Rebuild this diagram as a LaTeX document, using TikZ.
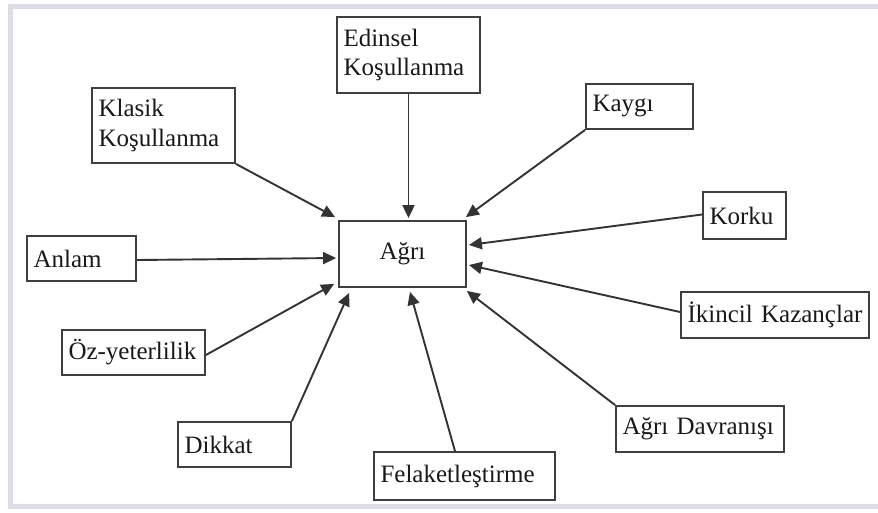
\documentclass[tikz,border=0pt]{standalone}
\usepackage{fontspec}
\setmainfont{Liberation Serif}
\usetikzlibrary{arrows.meta,calc}
\definecolor{framec}{HTML}{DDDDEA}
\definecolor{linec}{HTML}{333333}
\definecolor{boxc}{HTML}{3F3F3F}
\tikzset{
  box/.style={draw=boxc, line width=1.8pt, fill=white, inner xsep=5pt, inner ysep=2pt,
    align=left, font=\fontsize{25}{29.5}\selectfont, text=black!90},
  conn/.style={draw=linec, line width=1.9pt, -{Triangle[length=13pt,width=12pt]}},
}
\newcommand{\bx}[7]{% name, x1, y1, x2, y2, text
  \node[box, minimum width={#4-#2}, minimum height={#5-#3}, text width={#4-#2-10}] (#1) at ({(#2+#4)/2},{(#3+#5)/2}) {\hspace*{1.5pt}#6};}
\begin{document}
\begin{tikzpicture}[x=1pt,y=-1pt]
\useasboundingbox (0,0) rectangle (878,512);
\begin{scope}
\clip (0,0) rectangle (878,512);
\draw[framec, line width=5pt] (10,6) rectangle (895,506);
\end{scope}
\bx{klasik}{92}{88}{235}{163}{Klasik\\\hspace*{1.5pt}Koşullanma}{}
\bx{edinsel}{337}{17}{480}{93}{Edinsel\\\hspace*{1.5pt}Koşullanma}{}
\bx{kaygi}{586}{84}{693}{129}{Kaygı}{}
\bx{korku}{703}{192}{786}{239}{Korku}{}
\bx{anlam}{27}{236}{136}{281}{Anlam}{}
\bx{oz}{62}{330}{205}{375}{Öz-yeterlilik}{}
\bx{dikkat}{178}{422}{291}{467}{Dikkat}{}
\bx{ikincil}{681}{292}{869}{338}{İkincil Kazançlar}{}
\bx{davranis}{616}{406}{784}{452}{Ağrı Davranışı}{}
\bx{felaket}{374}{452}{555}{500}{Felaketleştirme}{}
\node[box, align=center, minimum width=127, minimum height=66] (agri) at (402.5,254) {Ağrı};

\draw[conn] (klasik.south east) -- ($(agri.north west)+(-3,-3)$);
\draw[conn] (edinsel.south) -- ($(edinsel.south |- agri.north)+(0,-2)$);
\draw[conn] (kaygi.south west) -- ($(agri.north east)+(-1,-3)$);
\draw[conn] ($(korku.west)+(0,-1)$) -- ($(agri.east)+(2,-9)$);
\draw[conn] ($(ikincil.west)+(0,-3)$) -- ($(agri.east)+(2,11)$);
\draw[conn] (davranis.north west) -- ($(agri.south east)+(0,3)$);
\draw[conn] ($(felaket.north)+(-9.5,0)$) -- ($(agri.south)+(7.5,4)$);
\draw[conn] (dikkat.north east) -- ($(agri.south west)+(11,5)$);
\draw[conn] ($(oz.east)+(0,2.5)$) -- ($(agri.south west)+(-4,-4)$);
\draw[conn] ($(anlam.east)+(0,1.5)$) -- ($(agri.west)+(-2,4)$);
\end{tikzpicture}
\end{document}
